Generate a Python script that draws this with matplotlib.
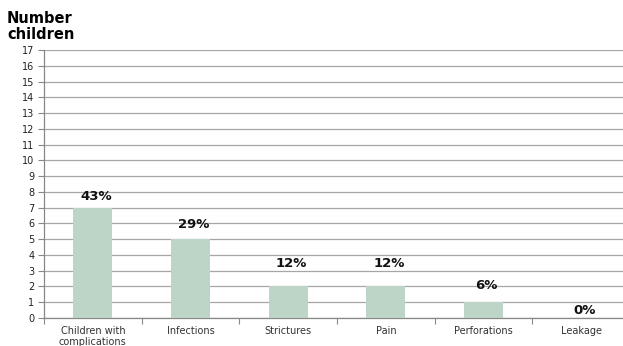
import matplotlib
matplotlib.use("Agg")
import matplotlib.pyplot as plt
from matplotlib.ticker import FixedLocator, MultipleLocator

categories = ["Children with\ncomplications", "Infections", "Strictures", "Pain", "Perforations", "Leakage"]
counts = [7, 5, 2, 2, 1, 0]
percent_labels = ["43%", "29%", "12%", "12%", "6%", "0%"]

# vertical gap (pixels) from each bar top to the centre of its label
label_gap_px = [11, 15, 23, 23, 17, 7]

W, H = 623, 346
fig = plt.figure(figsize=(W / 100, H / 100), dpi=100)
left, right = 44 / W, 630 / W
bottom, top = 1 - 318 / H, 1 - 50 / H
ax = fig.add_axes([left, bottom, right - left, top - bottom])

x = list(range(len(categories)))
ax.bar(x, counts, width=0.4, color="#bcd5c6", zorder=3)

ax.set_xlim(-0.5, len(categories) - 0.5)
ax.set_ylim(0, 17)
ax.yaxis.set_major_locator(MultipleLocator(1))
ax.grid(axis="y", color="#a6a6a6", linewidth=0.9, zorder=0)

# category labels sit between boundary ticks
ax.xaxis.set_major_locator(FixedLocator([i - 0.5 for i in range(len(categories) + 1)]))
ax.xaxis.set_major_formatter(plt.NullFormatter())
ax.xaxis.set_minor_locator(FixedLocator(x))
ax.set_xticklabels(categories, minor=True, fontsize=7, color="#333333",
                   family="DejaVu Sans", linespacing=1.1)
ax.tick_params(axis="x", which="minor", length=0, pad=6)
ax.tick_params(axis="x", which="major", length=4, color="#888888", direction="out")
ax.tick_params(axis="y", length=4, color="#888888", labelsize=7, labelcolor="#222222", pad=3)

for s in ["top", "right"]:
    ax.spines[s].set_visible(False)
for s in ["left", "bottom"]:
    ax.spines[s].set_color("#888888")
    ax.spines[s].set_linewidth(0.9)

for xi, v, lab, gap in zip(x, counts, percent_labels, label_gap_px):
    ax.annotate(lab, (xi + 0.03, v), xytext=(0, gap * 0.72), textcoords="offset points",
                ha="center", va="center", fontsize=9.5, fontweight="bold",
                family="DejaVu Sans", color="#111111", zorder=4)

fig.text(7 / W, 1 - 11 / H, "Number\nchildren", ha="left", va="top", fontsize=10.5,
         fontweight="bold", family="DejaVu Sans", linespacing=1.05)

fig.savefig("out.png", dpi=100)
